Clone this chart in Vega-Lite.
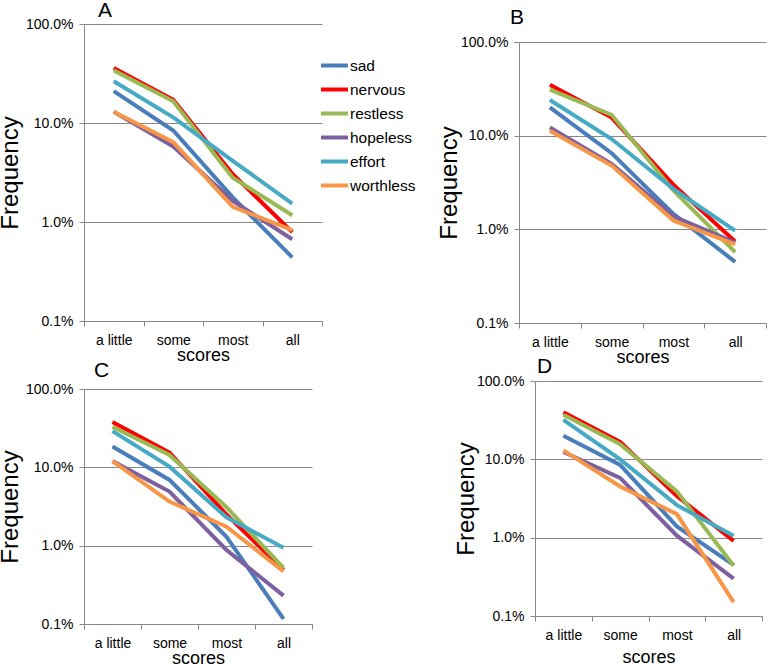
{
  "$schema": "https://vega.github.io/schema/vega-lite/v6.json",
  "background": "white",
  "padding": {"left": -2, "top": 0, "right": 0, "bottom": 0},
  "config": {
    "font": "Liberation Sans",
    "view": {"stroke": null},
    "title": {"fontSize": 21, "fontWeight": "normal", "anchor": "start", "frame": "group", "color": "black", "baseline": "alphabetic", "font": "Liberation Sans"},
    "axis": {"labelFont": "Liberation Sans", "titleFont": "Liberation Sans", "labelColor": "black", "titleColor": "black", "domainColor": "#888888", "tickColor": "#888888", "gridColor": "#888888", "tickSize": 5, "labelFontSize": 14, "titleFontWeight": "normal"},
    "axisX": {"tickBand": "extent", "labelAngle": 0, "grid": false, "labelPadding": 7, "titleFontSize": 18, "titlePadding": -1},
    "axisY": {"labelPadding": 6, "titleFontSize": 24, "titlePadding": 3, "grid": true},
    "legend": {"labelFont": "Liberation Sans"}
  },
  "resolve": {"scale": {"color": "shared"}, "legend": {"color": "shared"}},
  "datasets": {
    "d": [
      {"panel": "A", "symptom": "sad", "score": "a little", "freq": 0.21},
      {"panel": "A", "symptom": "sad", "score": "some", "freq": 0.084},
      {"panel": "A", "symptom": "sad", "score": "most", "freq": 0.0177},
      {"panel": "A", "symptom": "sad", "score": "all", "freq": 0.0044},
      {"panel": "A", "symptom": "nervous", "score": "a little", "freq": 0.36},
      {"panel": "A", "symptom": "nervous", "score": "some", "freq": 0.171},
      {"panel": "A", "symptom": "nervous", "score": "most", "freq": 0.0304},
      {"panel": "A", "symptom": "nervous", "score": "all", "freq": 0.0079},
      {"panel": "A", "symptom": "restless", "score": "a little", "freq": 0.34},
      {"panel": "A", "symptom": "restless", "score": "some", "freq": 0.166},
      {"panel": "A", "symptom": "restless", "score": "most", "freq": 0.028},
      {"panel": "A", "symptom": "restless", "score": "all", "freq": 0.0117},
      {"panel": "A", "symptom": "hopeless", "score": "a little", "freq": 0.13},
      {"panel": "A", "symptom": "hopeless", "score": "some", "freq": 0.058},
      {"panel": "A", "symptom": "hopeless", "score": "most", "freq": 0.0163},
      {"panel": "A", "symptom": "hopeless", "score": "all", "freq": 0.0067},
      {"panel": "A", "symptom": "effort", "score": "a little", "freq": 0.264},
      {"panel": "A", "symptom": "effort", "score": "some", "freq": 0.114},
      {"panel": "A", "symptom": "effort", "score": "most", "freq": 0.0415},
      {"panel": "A", "symptom": "effort", "score": "all", "freq": 0.0153},
      {"panel": "A", "symptom": "worthless", "score": "a little", "freq": 0.13},
      {"panel": "A", "symptom": "worthless", "score": "some", "freq": 0.064},
      {"panel": "A", "symptom": "worthless", "score": "most", "freq": 0.0142},
      {"panel": "A", "symptom": "worthless", "score": "all", "freq": 0.0083},

      {"panel": "B", "symptom": "sad", "score": "a little", "freq": 0.20},
      {"panel": "B", "symptom": "sad", "score": "some", "freq": 0.065},
      {"panel": "B", "symptom": "sad", "score": "most", "freq": 0.0146},
      {"panel": "B", "symptom": "sad", "score": "all", "freq": 0.0045},
      {"panel": "B", "symptom": "nervous", "score": "a little", "freq": 0.35},
      {"panel": "B", "symptom": "nervous", "score": "some", "freq": 0.156},
      {"panel": "B", "symptom": "nervous", "score": "most", "freq": 0.030},
      {"panel": "B", "symptom": "nervous", "score": "all", "freq": 0.0074},
      {"panel": "B", "symptom": "restless", "score": "a little", "freq": 0.31},
      {"panel": "B", "symptom": "restless", "score": "some", "freq": 0.167},
      {"panel": "B", "symptom": "restless", "score": "most", "freq": 0.026},
      {"panel": "B", "symptom": "restless", "score": "all", "freq": 0.0057},
      {"panel": "B", "symptom": "hopeless", "score": "a little", "freq": 0.122},
      {"panel": "B", "symptom": "hopeless", "score": "some", "freq": 0.050},
      {"panel": "B", "symptom": "hopeless", "score": "most", "freq": 0.0138},
      {"panel": "B", "symptom": "hopeless", "score": "all", "freq": 0.0072},
      {"panel": "B", "symptom": "effort", "score": "a little", "freq": 0.24},
      {"panel": "B", "symptom": "effort", "score": "some", "freq": 0.092},
      {"panel": "B", "symptom": "effort", "score": "most", "freq": 0.027},
      {"panel": "B", "symptom": "effort", "score": "all", "freq": 0.0097},
      {"panel": "B", "symptom": "worthless", "score": "a little", "freq": 0.113},
      {"panel": "B", "symptom": "worthless", "score": "some", "freq": 0.048},
      {"panel": "B", "symptom": "worthless", "score": "most", "freq": 0.0124},
      {"panel": "B", "symptom": "worthless", "score": "all", "freq": 0.0069},

      {"panel": "C", "symptom": "sad", "score": "a little", "freq": 0.184},
      {"panel": "C", "symptom": "sad", "score": "some", "freq": 0.069},
      {"panel": "C", "symptom": "sad", "score": "most", "freq": 0.013},
      {"panel": "C", "symptom": "sad", "score": "all", "freq": 0.00116},
      {"panel": "C", "symptom": "nervous", "score": "a little", "freq": 0.38},
      {"panel": "C", "symptom": "nervous", "score": "some", "freq": 0.154},
      {"panel": "C", "symptom": "nervous", "score": "most", "freq": 0.025},
      {"panel": "C", "symptom": "nervous", "score": "all", "freq": 0.0049},
      {"panel": "C", "symptom": "restless", "score": "a little", "freq": 0.33},
      {"panel": "C", "symptom": "restless", "score": "some", "freq": 0.144},
      {"panel": "C", "symptom": "restless", "score": "most", "freq": 0.031},
      {"panel": "C", "symptom": "restless", "score": "all", "freq": 0.0052},
      {"panel": "C", "symptom": "hopeless", "score": "a little", "freq": 0.12},
      {"panel": "C", "symptom": "hopeless", "score": "some", "freq": 0.049},
      {"panel": "C", "symptom": "hopeless", "score": "most", "freq": 0.0088},
      {"panel": "C", "symptom": "hopeless", "score": "all", "freq": 0.0023},
      {"panel": "C", "symptom": "effort", "score": "a little", "freq": 0.29},
      {"panel": "C", "symptom": "effort", "score": "some", "freq": 0.102},
      {"panel": "C", "symptom": "effort", "score": "most", "freq": 0.023},
      {"panel": "C", "symptom": "effort", "score": "all", "freq": 0.0094},
      {"panel": "C", "symptom": "worthless", "score": "a little", "freq": 0.12},
      {"panel": "C", "symptom": "worthless", "score": "some", "freq": 0.0365},
      {"panel": "C", "symptom": "worthless", "score": "most", "freq": 0.0175},
      {"panel": "C", "symptom": "worthless", "score": "all", "freq": 0.0047},

      {"panel": "D", "symptom": "sad", "score": "a little", "freq": 0.20},
      {"panel": "D", "symptom": "sad", "score": "some", "freq": 0.085},
      {"panel": "D", "symptom": "sad", "score": "most", "freq": 0.0139},
      {"panel": "D", "symptom": "sad", "score": "all", "freq": 0.0045},
      {"panel": "D", "symptom": "nervous", "score": "a little", "freq": 0.40},
      {"panel": "D", "symptom": "nervous", "score": "some", "freq": 0.167},
      {"panel": "D", "symptom": "nervous", "score": "most", "freq": 0.034},
      {"panel": "D", "symptom": "nervous", "score": "all", "freq": 0.0091},
      {"panel": "D", "symptom": "restless", "score": "a little", "freq": 0.37},
      {"panel": "D", "symptom": "restless", "score": "some", "freq": 0.156},
      {"panel": "D", "symptom": "restless", "score": "most", "freq": 0.039},
      {"panel": "D", "symptom": "restless", "score": "all", "freq": 0.0044},
      {"panel": "D", "symptom": "hopeless", "score": "a little", "freq": 0.124},
      {"panel": "D", "symptom": "hopeless", "score": "some", "freq": 0.058},
      {"panel": "D", "symptom": "hopeless", "score": "most", "freq": 0.0106},
      {"panel": "D", "symptom": "hopeless", "score": "all", "freq": 0.0030},
      {"panel": "D", "symptom": "effort", "score": "a little", "freq": 0.318},
      {"panel": "D", "symptom": "effort", "score": "some", "freq": 0.10},
      {"panel": "D", "symptom": "effort", "score": "most", "freq": 0.026},
      {"panel": "D", "symptom": "effort", "score": "all", "freq": 0.0106},
      {"panel": "D", "symptom": "worthless", "score": "a little", "freq": 0.13},
      {"panel": "D", "symptom": "worthless", "score": "some", "freq": 0.045},
      {"panel": "D", "symptom": "worthless", "score": "most", "freq": 0.020},
      {"panel": "D", "symptom": "worthless", "score": "all", "freq": 0.0015}
    ]
  },
  "spacing": -10,
  "vconcat": [
    {
      "spacing": 114,
      "resolve": {"scale": {"color": "shared"}, "legend": {"color": "shared"}},
      "hconcat": [
        {
          "width": 238, "height": 297,
          "title": {"text": "A", "offset": -4, "dx": 14},
          "data": {"name": "d"},
          "transform": [{"filter": "datum.panel === 'A'"}],
          "mark": {"type": "line", "strokeWidth": 4},
          "encoding": {
            "x": {"field": "score", "type": "ordinal", "sort": ["a little", "some", "most", "all"], "bandPosition": 0.5, "scale": {"type": "band", "paddingInner": 0, "paddingOuter": 0}, "title": "scores"},
            "y": {"field": "freq", "type": "quantitative", "scale": {"type": "log", "domain": [0.001, 1]}, "axis": {"values": [0.001, 0.01, 0.1, 1], "format": ".1%"}, "title": "Frequency"},
            "color": {"field": "symptom", "type": "nominal", "scale": {"domain": ["sad", "nervous", "restless", "hopeless", "effort", "worthless"], "range": ["#4A7EBB", "#FF0000", "#98B954", "#7D60A0", "#46AAC5", "#F79646"]}, "legend": {"orient": "none", "legendX": 235, "legendY": 26, "title": null, "symbolType": "stroke", "symbolSize": 729, "symbolStrokeWidth": 4, "rowPadding": -9, "labelFontSize": 15.5, "labelColor": "black", "labelOffset": 0, "labelExpr": "datum.label == 'sad' ? ' sad' : datum.label"}}
          }
        },
        {
          "width": 247, "height": 299,
          "title": {"text": "B", "offset": -4, "dx": -9},
          "data": {"name": "d"},
          "transform": [{"filter": "datum.panel === 'B'"}],
          "mark": {"type": "line", "strokeWidth": 4},
          "encoding": {
            "x": {"field": "score", "type": "ordinal", "sort": ["a little", "some", "most", "all"], "bandPosition": 0.5, "scale": {"type": "band", "paddingInner": 0, "paddingOuter": 0}, "title": "scores"},
            "y": {"field": "freq", "type": "quantitative", "scale": {"type": "log", "domain": [0.001, 1], "range": [299, 18]}, "axis": {"values": [0.001, 0.01, 0.1, 1], "format": ".1%", "titlePadding": -1}, "title": "Frequency"},
            "color": {"field": "symptom", "type": "nominal", "scale": {"domain": ["sad", "nervous", "restless", "hopeless", "effort", "worthless"], "range": ["#4A7EBB", "#FF0000", "#98B954", "#7D60A0", "#46AAC5", "#F79646"]}, "legend": {"orient": "none", "legendX": 235, "legendY": 26, "title": null, "symbolType": "stroke", "symbolSize": 729, "symbolStrokeWidth": 4, "rowPadding": -9, "labelFontSize": 15.5, "labelColor": "black", "labelOffset": 0, "labelExpr": "datum.label == 'sad' ? ' sad' : datum.label"}}
          }
        }
      ]
    },
    {
      "spacing": 141,
      "resolve": {"scale": {"color": "shared"}, "legend": {"color": "shared"}},
      "hconcat": [
        {
          "width": 228, "height": 243,
          "title": {"text": "C", "offset": 0, "dx": 10},
          "data": {"name": "d"},
          "transform": [{"filter": "datum.panel === 'C'"}],
          "mark": {"type": "line", "strokeWidth": 4},
          "encoding": {
            "x": {"field": "score", "type": "ordinal", "sort": ["a little", "some", "most", "all"], "bandPosition": 0.5, "scale": {"type": "band", "paddingInner": 0, "paddingOuter": 0}, "title": "scores"},
            "y": {"field": "freq", "type": "quantitative", "scale": {"type": "log", "domain": [0.001, 1], "range": [243, 8]}, "axis": {"values": [0.001, 0.01, 0.1, 1], "format": ".1%"}, "title": "Frequency"},
            "color": {"field": "symptom", "type": "nominal", "scale": {"domain": ["sad", "nervous", "restless", "hopeless", "effort", "worthless"], "range": ["#4A7EBB", "#FF0000", "#98B954", "#7D60A0", "#46AAC5", "#F79646"]}, "legend": {"orient": "none", "legendX": 235, "legendY": 26, "title": null, "symbolType": "stroke", "symbolSize": 729, "symbolStrokeWidth": 4, "rowPadding": -9, "labelFontSize": 15.5, "labelColor": "black", "labelOffset": 0, "labelExpr": "datum.label == 'sad' ? ' sad' : datum.label"}}
          }
        },
        {
          "width": 227, "height": 235,
          "title": {"text": "D", "offset": -3, "dx": 2},
          "data": {"name": "d"},
          "transform": [{"filter": "datum.panel === 'D'"}],
          "mark": {"type": "line", "strokeWidth": 4},
          "encoding": {
            "x": {"field": "score", "type": "ordinal", "sort": ["a little", "some", "most", "all"], "bandPosition": 0.5, "scale": {"type": "band", "paddingInner": 0, "paddingOuter": 0}, "axis": {"titlePadding": 6.5}, "title": "scores"},
            "y": {"field": "freq", "type": "quantitative", "scale": {"type": "log", "domain": [0.001, 1]}, "axis": {"values": [0.001, 0.01, 0.1, 1], "format": ".1%", "titlePadding": -2}, "title": "Frequency"},
            "color": {"field": "symptom", "type": "nominal", "scale": {"domain": ["sad", "nervous", "restless", "hopeless", "effort", "worthless"], "range": ["#4A7EBB", "#FF0000", "#98B954", "#7D60A0", "#46AAC5", "#F79646"]}, "legend": {"orient": "none", "legendX": 235, "legendY": 26, "title": null, "symbolType": "stroke", "symbolSize": 729, "symbolStrokeWidth": 4, "rowPadding": -9, "labelFontSize": 15.5, "labelColor": "black", "labelOffset": 0, "labelExpr": "datum.label == 'sad' ? ' sad' : datum.label"}}
          }
        }
      ]
    }
  ]
}
